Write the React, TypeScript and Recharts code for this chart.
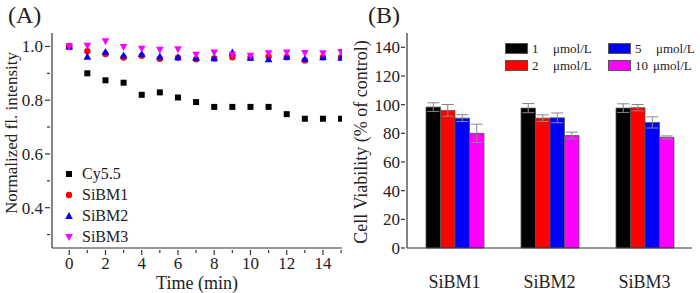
import React from "react"
import {
  ScatterChart,
  Scatter,
  BarChart,
  Bar,
  ErrorBar,
  XAxis,
  YAxis,
} from "recharts"

const FONT = "'Liberation Serif', 'Times New Roman', serif"
const AXIS = "#333"
const TXT = { fontFamily: FONT }

// panel A: normalized fluorescence vs time
const time = [0, 1, 2, 3, 4, 5, 6, 7, 8, 9, 10, 11, 12, 13, 14, 15]
const cy55 = [1.0, 0.9, 0.874, 0.865, 0.82, 0.829, 0.81, 0.793, 0.775, 0.775, 0.775, 0.775, 0.748, 0.731, 0.731, 0.731]
const sibm1 = [1.0, 0.982, 0.972, 0.959, 0.965, 0.954, 0.958, 0.952, 0.955, 0.96, 0.958, 0.962, 0.96, 0.948, 0.96, 0.96]
const sibm2 = [1.0, 0.962, 0.979, 0.966, 0.972, 0.963, 0.96, 0.957, 0.956, 0.977, 0.958, 0.952, 0.962, 0.954, 0.96, 0.958]
const sibm3 = [1.0, 1.003, 1.019, 0.998, 0.991, 0.988, 0.99, 0.969, 0.977, 0.969, 0.965, 0.975, 0.977, 0.976, 0.975, 0.979]
const xTicksA = [1, 2, 3, 4, 5, 6, 7, 8, 9, 10, 11, 12, 13, 14, 15, 0]
const yTicksA = [0.3, 0.4, 0.5, 0.6, 0.7, 0.8, 0.9, 1.0]

// panel B: cell viability
const samples = ["SiBM1", "SiBM2", "SiBM3"]
const conc1 = [98.3, 97.6, 97.6]
const conc2 = [96.0, 90.6, 97.9]
const conc5 = [90.6, 90.8, 87.6]
const conc10 = [80.0, 78.5, 77.2]
const err1 = [3, 3.2, 3]
const err2 = [4.1, 2.3, 2.2]
const err5 = [2.4, 3.4, 3.9]
const err10 = [6.4, 2.3, 1]
const yTicksB = [0, 20, 40, 60, 80, 100, 120, 140]

const toPoints = (vals: number[]) => vals.map((v, i) => ({ t: time[i], v }))

const barData = samples.map((name, i) => ({
  name,
  c1: conc1[i],
  c2: conc2[i],
  c5: conc5[i],
  c10: conc10[i],
  e1: err1[i],
  e2: err2[i],
  e5: err5[i],
  e10: err10[i],
}))

const Square = (p: any) => <rect x={p.cx - 3} y={p.cy - 3} width={6} height={6} fill="#000" />
const Circle = (p: any) => <circle cx={p.cx} cy={p.cy} r={3.2} fill="#ff0000" />
const TriUp = (p: any) => (
  <polygon points={`${p.cx},${p.cy - 4} ${p.cx - 3.8},${p.cy + 3} ${p.cx + 3.8},${p.cy + 3}`} fill="#0000ff" />
)
const TriDown = (p: any) => (
  <polygon points={`${p.cx},${p.cy + 4} ${p.cx - 3.8},${p.cy - 3} ${p.cx + 3.8},${p.cy - 3}`} fill="#ff00ff" />
)

const seriesA = [
  { name: "Cy5.5", data: cy55, shape: Square },
  { name: "SiBM1", data: sibm1, shape: Circle },
  { name: "SiBM2", data: sibm2, shape: TriUp },
  { name: "SiBM3", data: sibm3, shape: TriDown },
]

const seriesB = [
  { key: "c1", err: "e1", num: "1", color: "#000000" },
  { key: "c2", err: "e2", num: "2", color: "#ff0000" },
  { key: "c5", err: "e5", num: "5", color: "#0000ff" },
  { key: "c10", err: "e10", num: "10", color: "#ff00ff" },
]

const XTickA = (props: any) => {
  const { x, y, payload } = props
  const major = payload.value % 2 === 0
  return (
    <g>
      <line x1={x} x2={x} y1={y} y2={y + (major ? 5 : 3)} stroke={AXIS} strokeWidth={1.2} />
      {major && (
        <text x={x} y={y + 19} textAnchor="middle" fontSize={17} style={TXT} fill="#222">
          {payload.value}
        </text>
      )}
    </g>
  )
}

const YTickA = (props: any) => {
  const { x, y, payload } = props
  const major = Math.round(payload.value * 10) % 2 === 0
  return (
    <g>
      <line x1={x} x2={x - (major ? 5 : 3)} y1={y} y2={y} stroke={AXIS} strokeWidth={1.2} />
      {major && (
        <text x={x - 7} y={y + 6} textAnchor="end" fontSize={17} style={TXT} fill="#222">
          {payload.value.toFixed(1)}
        </text>
      )}
    </g>
  )
}

const YTickB = (props: any) => {
  const { x, y, payload } = props
  return (
    <g>
      <line x1={x} x2={x - 4} y1={y} y2={y} stroke={AXIS} strokeWidth={1.2} />
      <text x={x - 5} y={y + 6} textAnchor="end" fontSize={17} style={TXT} fill="#222">
        {payload.value}
      </text>
    </g>
  )
}

const XTickB = (props: any) => {
  const { x, y, payload } = props
  return (
    <text x={x} y={y + 38} textAnchor="middle" fontSize={18} style={TXT} fill="#222">
      {payload.value}
    </text>
  )
}

// axis titles drawn at a fixed spot of the panel
const yTitle = (text: string, cx: number, cy: number, size: number) => () => (
  <text
    x={cx}
    y={cy}
    transform={`rotate(-90 ${cx} ${cy})`}
    textAnchor="middle"
    dominantBaseline="central"
    fontSize={size}
    style={TXT}
    fill="#222"
  >
    {text}
  </text>
)

const xTitle = (text: string, cx: number, baseline: number, size: number) => () => (
  <text x={cx} y={baseline} textAnchor="middle" fontSize={size} style={TXT} fill="#222">
    {text}
  </text>
)

const LegendA = () => (
  <div style={{ position: "absolute", left: 62, top: 163, fontFamily: FONT, fontSize: 16, color: "#222" }}>
    {seriesA.map((s) => {
      const Shape = s.shape
      return (
        <div key={s.name} style={{ height: 21, display: "flex", alignItems: "center" }}>
          <svg width={14} height={14} style={{ marginRight: 6 }}>
            <Shape cx={7} cy={7} />
          </svg>
          <span>{s.name}</span>
        </div>
      )
    })}
  </div>
)

const LegendB = () => (
  <div
    style={{
      position: "absolute",
      left: 155,
      top: 40,
      fontFamily: FONT,
      fontSize: 13,
      color: "#222",
      display: "grid",
      gridTemplateColumns: "103px 100px",
      gridTemplateRows: "17px 17px",
      gridAutoFlow: "column",
    }}
  >
    {seriesB.map((s) => (
      <div key={s.key} style={{ display: "flex", alignItems: "center" }}>
        <div style={{ width: 21, height: 9, background: s.color, border: "1px solid #555", marginRight: 4 }} />
        <span style={{ display: "inline-block", width: s.num === "10" ? 18 : 21 }}>{s.num}</span>
        <span>μmol/L</span>
      </div>
    ))}
  </div>
)

const titleStyle = (left: number): React.CSSProperties => ({
  position: "absolute",
  left,
  top: 3,
  lineHeight: 1,
  fontFamily: FONT,
  fontSize: 24,
  color: "#222",
})

function PanelA() {
  return (
    <div style={{ position: "relative", width: 350, height: 293 }}>
      <ScatterChart width={350} height={293} margin={{ top: 33, right: 8, bottom: 0, left: 0 }}>
        <XAxis
          xAxisId="top"
          orientation="top"
          type="number"
          dataKey="t"
          domain={[-0.95, 15.05]}
          height={0}
          tick={false}
          tickLine={false}
          stroke={AXIS}
          strokeWidth={1.2}
        />
        <YAxis
          yAxisId="right"
          orientation="right"
          type="number"
          domain={[0.25, 1.05]}
          width={0}
          tick={false}
          tickLine={false}
          stroke={AXIS}
          strokeWidth={1.2}
        />
        <XAxis
          type="number"
          dataKey="t"
          domain={[-0.95, 15.05]}
          allowDataOverflow
          ticks={xTicksA}
          interval={0}
          tick={<XTickA />}
          tickLine={false}
          tickSize={0}
          height={45}
          stroke={AXIS}
          strokeWidth={1.2}
          label={xTitle("Time (min)", 197, 289, 18)}
        />
        <YAxis
          type="number"
          dataKey="v"
          domain={[0.25, 1.05]}
          allowDataOverflow
          ticks={yTicksA}
          interval={0}
          tick={<YTickA />}
          tickLine={false}
          tickSize={0}
          width={52}
          stroke={AXIS}
          strokeWidth={1.2}
          label={yTitle("Normalized fl. intensity", 11, 133, 17)}
        />
        {seriesA.map((s) => (
          <Scatter
            key={s.name}
            name={s.name}
            data={toPoints(s.data)}
            shape={s.shape}
            isAnimationActive={false}
          />
        ))}
      </ScatterChart>
      <div style={titleStyle(8)}>(A)</div>
      <LegendA />
    </div>
  )
}

function PanelB() {
  return (
    <div style={{ position: "relative", width: 350, height: 293 }}>
      <BarChart
        width={350}
        height={293}
        data={barData}
        margin={{ top: 33, right: 8, bottom: 0, left: 0 }}
        barGap={0}
        barSize={14.5}
      >
        <XAxis xAxisId="top" orientation="top" dataKey="name" height={0} tick={false} tickLine={false} stroke={AXIS} strokeWidth={1.2} />
        <YAxis yAxisId="right" orientation="right" domain={[0, 150]} width={0} tick={false} tickLine={false} stroke={AXIS} strokeWidth={1.2} />
        <XAxis
          dataKey="name"
          tick={<XTickB />}
          tickLine={false}
          tickSize={0}
          height={45}
          stroke={AXIS}
          strokeWidth={1.2}
        />
        <YAxis
          domain={[0, 150]}
          ticks={yTicksB}
          interval={0}
          tick={<YTickB />}
          tickLine={false}
          tickSize={0}
          width={57}
          stroke={AXIS}
          strokeWidth={1.2}
          label={yTitle("Cell Viability (% of control)", 11, 142, 18)}
        />
        {seriesB.map((s) => (
          <Bar key={s.key} dataKey={s.key} fill={s.color} stroke="#555" strokeWidth={0.8} isAnimationActive={false}>
            <ErrorBar dataKey={s.err} width={6} stroke="#888" strokeWidth={1} direction="y" />
          </Bar>
        ))}
      </BarChart>
      <div style={titleStyle(18)}>(B)</div>
      <LegendB />
    </div>
  )
}

export default function App() {
  return (
    <div
      style={{
        position: "absolute",
        left: 0,
        top: 0,
        width: 700,
        height: 293,
        background: "#fff",
        display: "flex",
        fontFamily: FONT,
      }}
    >
      <PanelA />
      <PanelB />
    </div>
  )
}
